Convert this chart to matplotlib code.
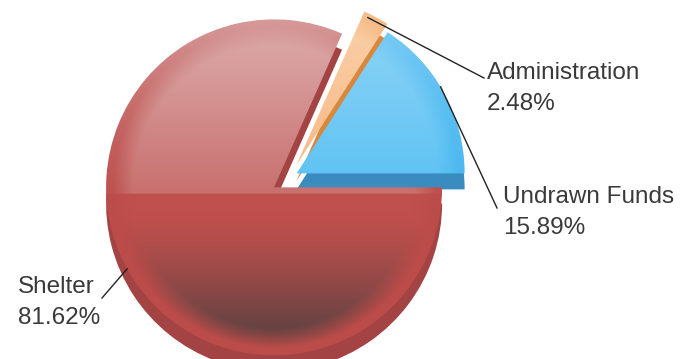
import numpy as np
import matplotlib
matplotlib.use("Agg")
import matplotlib.pyplot as plt
from matplotlib.colors import to_rgb

plt.rcParams['font.family'] = ['Liberation Sans', 'DejaVu Sans']

# data
labels = ['Undrawn Funds', 'Administration', 'Shelter']
shares = [15.89, 2.48, 81.62]
explode = [0.045, 0.08, 0.113]

# styling: (top, upper-middle, lower-middle, bottom, rim)
face_colors = [('#92d5f6', '#5ec3f3', '#3db1ef', '#2aa7ed', '#48b6f0'),
               ('#fbd2ae', '#f7b985', '#f3a96c', '#ee9a55', '#e8923f'),
               ('#ddaeae', '#c8706e', '#c0504d', '#5f4242', '#bb4c49')]
side_colors = ['#3a8cc0', '#d8873d', '#a44343']
label_angles = [31, None, 209]   # where leader lines touch the wedge
label_pos = [(503, 186), (487, 62), (18, 276)]  # pixel positions of label text (top-left)

W, H = 685, 359
R = 168
C = (290, H - 177)
depth = 16


def face_image(cols, n=300):
    top_c, umid_c, lmid_c, bot_c, rim_c = [np.array(to_rgb(c)) for c in cols]
    yy, xx = np.mgrid[-1:1:n * 1j, -1:1:n * 1j]   # yy from -1 (bottom) to 1 (top)
    t = ((1 - yy) / 2)[..., None]                   # 0 top, 1 bottom
    upper = top_c + (umid_c - top_c) * np.clip(t / 0.52, 0, 1)
    lower = lmid_c + (bot_c - lmid_c) * np.clip((t - 0.58) / 0.36, 0, 1) ** 1.3
    img = np.where(t < 0.52, upper, lower)
    r = np.sqrt(xx ** 2 + yy ** 2)[..., None]
    rim = np.clip((r - 0.84) / 0.12, 0, 1) * np.clip(0.2 + t * 1.2, 0, 1)
    img = img * (1 - rim) + rim_c * rim
    return np.clip(img, 0, 1)


fig = plt.figure(figsize=(W / 100, H / 100), dpi=100)
ax = fig.add_axes([0, 0, 1, 1])
ax.axis('off')

expl_px = [e * R for e in explode]
# side (extrusion) of the pie
side, _ = ax.pie(shares, explode=expl_px, radius=R, center=(C[0], C[1] - depth),
                 startangle=0, counterclock=True, colors=side_colors,
                 wedgeprops=dict(linewidth=0))
# top face
top, _ = ax.pie(shares, explode=expl_px, radius=R, center=C,
                startangle=0, counterclock=True, colors=['none'] * 3,
                wedgeprops=dict(linewidth=0))

for w, cols in zip(top, face_colors):
    cx, cy = w.center
    im = ax.imshow(face_image(cols), extent=(cx - R, cx + R, cy - R, cy + R),
                   aspect='auto', origin='lower', zorder=2, interpolation='bilinear')
    im.set_clip_path(w)

# labels with leader lines
for i, (w, lab, val) in enumerate(zip(top, labels, shares)):
    tx, ty = label_pos[i]
    ang = label_angles[i]
    if ang is None:
        ang = w.theta2 - 2
    cx, cy = w.center
    rr = R - 4 if lab == 'Administration' else R
    start = (cx + rr * np.cos(np.radians(ang)), cy + rr * np.sin(np.radians(ang)))
    txt_y = H - ty
    if lab == 'Shelter':
        end = (tx + 84, txt_y - 22)
    elif lab == 'Administration':
        end = (tx - 3, txt_y - 16)
    else:
        end = (tx - 6, txt_y - 22)
    ax.plot([start[0], end[0]], [start[1], end[1]], color='#222222', lw=1, zorder=3)
    ax.text(tx, txt_y, f'{lab}\n{val:.2f}%', fontsize=17.5, color='#3a3a3a',
            ha='left', va='top', linespacing=1.5, zorder=4)

ax.set_xlim(0, W)
ax.set_ylim(0, H)
fig.savefig('out.png', dpi=100)
